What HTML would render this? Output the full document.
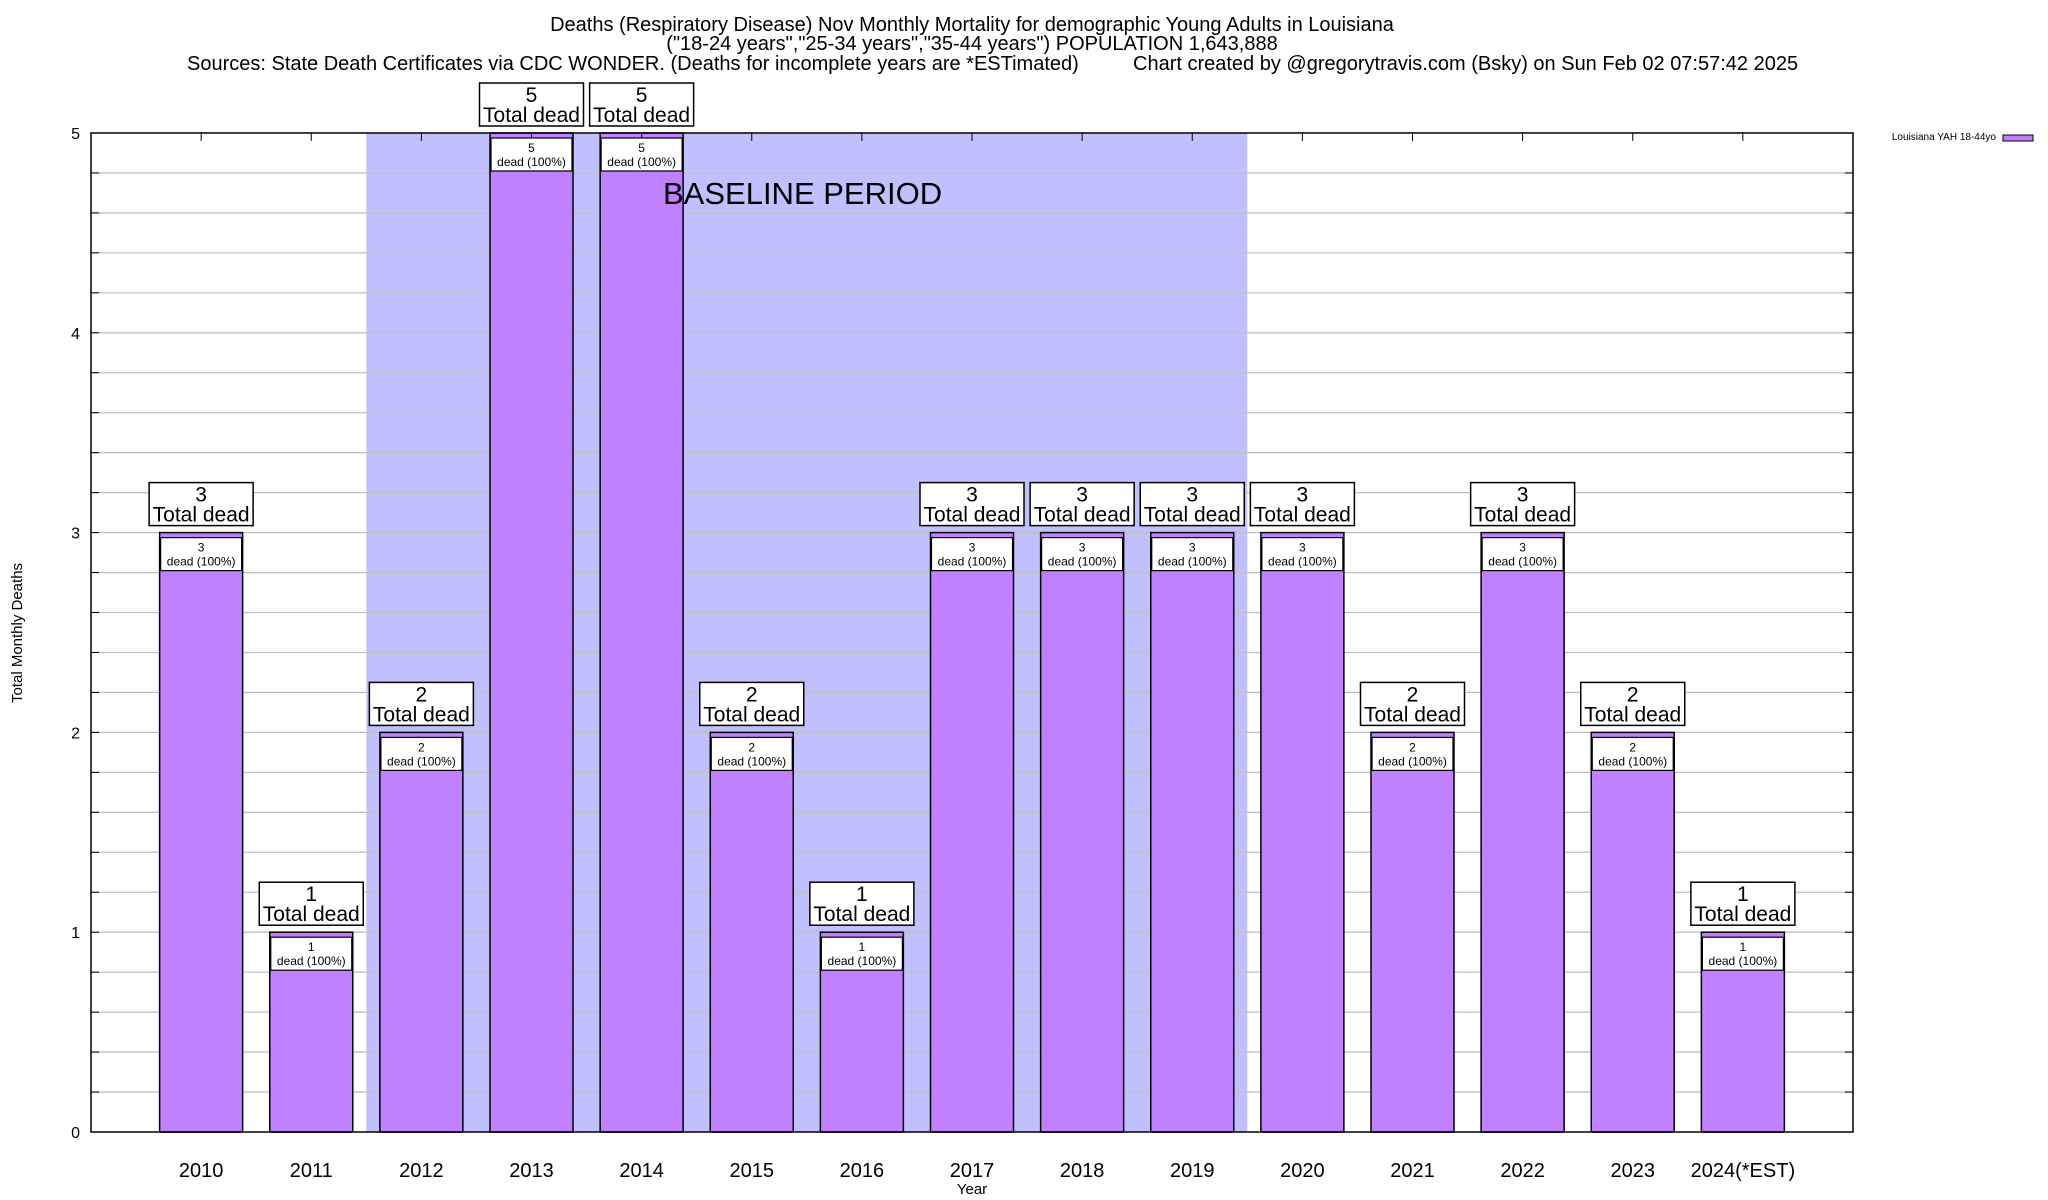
<!DOCTYPE html>
<html><head><meta charset="utf-8"><style>
html,body{margin:0;padding:0;background:#fff;}
svg{display:block;font-family:"Liberation Sans",Arial,sans-serif;}
</style></head><body>
<svg id="chart" width="2048" height="1200" viewBox="0 0 2048 1200" xmlns="http://www.w3.org/2000/svg">
<rect width="2048" height="1200" fill="#fff"/>
<g id="titles" font-size="20" fill="#000">
<text x="972" y="31" text-anchor="middle">Deaths (Respiratory Disease) Nov Monthly Mortality for demographic Young Adults in Louisiana</text>
<text x="972" y="50" text-anchor="middle">("18-24 years","25-34 years","35-44 years") POPULATION 1,643,888</text>
<text x="187" y="70">Sources: State Death Certificates via CDC WONDER. (Deaths for incomplete years are *ESTimated)</text>
<text x="1133" y="70">Chart created by @gregorytravis.com (Bsky) on Sun Feb 02 07:57:42 2025</text>
</g>
<g id="plot"></g>
<text x="22" y="633" transform="rotate(-90 22 633)" text-anchor="middle" font-size="15">Total Monthly Deaths</text>
<text x="972" y="1194" text-anchor="middle" font-size="15">Year</text>
<g>
<text x="1996" y="140" text-anchor="end" font-size="10">Louisiana YAH 18-44yo</text>
<rect x="2003" y="135" width="30" height="6" fill="#c080ff" stroke="#000" stroke-width="1"/>
</g>
</svg>
<script>
const categories = ["2010","2011","2012","2013","2014","2015","2016","2017","2018","2019","2020","2021","2022","2023","2024(*EST)"];
const deaths = [3,1,2,5,5,2,1,3,3,3,3,2,3,2,1];
const yTicks = [0,1,2,3,4,5];
const baselineRange = [1.5, 9.5];

const NS = "http://www.w3.org/2000/svg";
const L = 91, R = 1853, T = 133, B = 1132;
const xMin = -1, xMax = 15, yMin = 0, yMax = 5;
const xs = v => L + (v - xMin) / (xMax - xMin) * (R - L);
const ys = v => B - (v - yMin) / (yMax - yMin) * (B - T);
const plot = document.getElementById('plot');
function mk(tag, attrs, parent, text) {
  const e = document.createElementNS(NS, tag);
  for (const k in attrs) e.setAttribute(k, attrs[k]);
  if (text !== undefined) e.textContent = text;
  (parent || plot).appendChild(e);
  return e;
}
const shade = mk('rect', {x: xs(baselineRange[0]), y: T, width: xs(baselineRange[1]) - xs(baselineRange[0]), height: B - T, fill: '#c0c0ff'});


for (let i = 1; i < 25; i++) {
  const v = i * 0.2;
  const g = mk('line', {x1: L, x2: R, y1: ys(v), y2: ys(v), stroke: '#c0c0c0', 'stroke-width': 1.3});
  
  
  mk('line', {x1: L, x2: L + 8, y1: ys(v), y2: ys(v), stroke: '#000'});
  mk('line', {x1: R - 8, x2: R, y1: ys(v), y2: ys(v), stroke: '#000'});
}
yTicks.forEach(v => {
  const t = mk('text', {x: 80, y: ys(v) + 6, 'text-anchor': 'end', 'font-size': 16}, null, String(v));
  
  
});
const bw = 83;
categories.forEach((c, i) => {
  const cx = xs(i), v = deaths[i], top = ys(v);
  const bar = mk('rect', {x: cx - bw / 2, y: top, width: bw, height: B - top, fill: '#c080ff', stroke: '#000', 'stroke-width': 1.5});
  
  
  mk('line', {x1: cx, x2: cx, y1: T, y2: T + 8, stroke: '#000'});
  const ib = mk('rect', {x: cx - bw / 2 + 1, y: top + 5, width: bw - 2, height: 33, fill: '#fff', stroke: '#000', 'stroke-width': 1.2});
  
  
  mk('text', {x: cx, y: top + 19, 'text-anchor': 'middle', 'font-size': 12}, null, String(v));
  mk('text', {x: cx, y: top + 33, 'text-anchor': 'middle', 'font-size': 12}, null, 'dead (100%)');
  const ob = mk('rect', {x: cx - 52, y: top - 50, width: 104, height: 43, fill: '#fff', stroke: '#000', 'stroke-width': 1.5});
  
  
  mk('text', {x: cx, y: top - 31, 'text-anchor': 'middle', 'font-size': 21}, null, String(v));
  mk('text', {x: cx, y: top - 11, 'text-anchor': 'middle', 'font-size': 21}, null, 'Total dead');
  const xl = mk('text', {x: cx, y: 1177, 'text-anchor': 'middle', 'font-size': 20}, null, c);
  
  
});
const bl = mk('text', {x: 663, y: 204, 'font-size': 31}, null, 'BASELINE PERIOD');


const frame = mk('rect', {x: L, y: T, width: R - L, height: B - T, fill: 'none', stroke: '#000', 'stroke-width': 1.5});


</script>
</body></html>
